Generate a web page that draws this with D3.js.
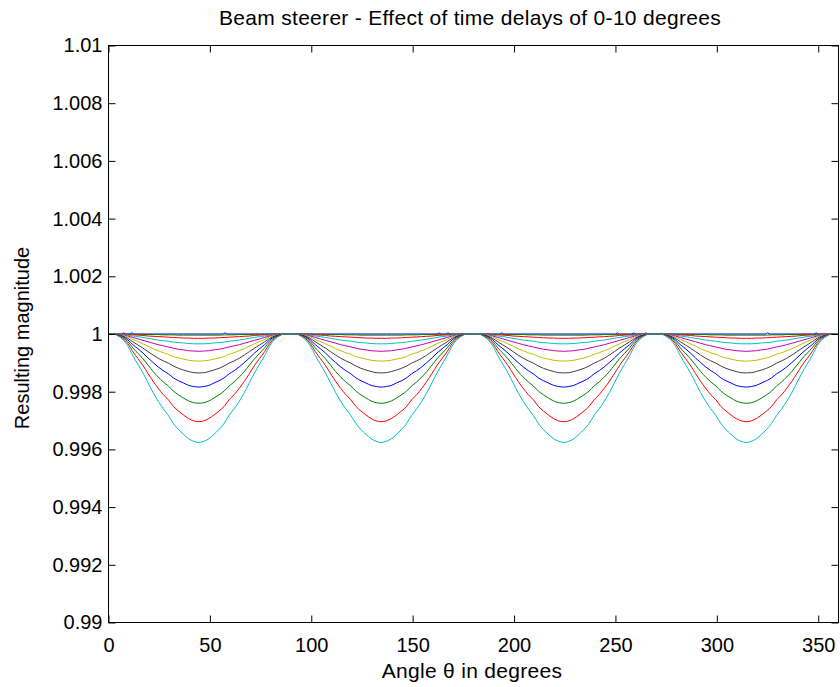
<!DOCTYPE html>
<html>
<head>
<meta charset="utf-8">
<script src="https://cdn.jsdelivr.net/npm/d3@7"></script>
<style>
  html, body { margin: 0; padding: 0; background: #fff; }
  svg { display: block; }
  text { font-family: "Liberation Sans", Arial, Helvetica, sans-serif; fill: #000; }
</style>
</head>
<body>
<svg id="chart" width="840" height="687"></svg>
<script>
// ---------------- data ----------------
const titleText = "Beam steerer - Effect of time delays of 0-10 degrees";
const xLabelText = "Angle \u03b8 in degrees";
const yLabelText = "Resulting magnitude";

const xTicks = [0, 50, 100, 150, 200, 250, 300, 350];
const yTicks = [0.99, 0.992, 0.994, 0.996, 0.998, 1, 1.002, 1.004, 1.006, 1.008, 1.01];

// time delays (degrees) for each curve
const delays = [0, 1, 2, 3, 4, 5, 6, 7, 8, 9, 10];

// delay 0: flat at 1 with a few tiny numerical blips
const delay0Angles = [0, 6.5, 7.5, 8.5, 10.5, 11.5, 12.5, 56.5, 57.5, 58.5, 162, 163, 164, 166.5, 167.5, 168.5, 193, 194, 195, 250, 251, 252, 258, 259, 260, 264, 265, 266, 324, 325, 326, 348, 349, 350, 360];
const delay0Values = [1, 1, 1.00004, 1, 1, 1.00004, 1, 1, 1.00004, 1, 1, 1.00004, 1, 1, 1.00004, 1, 1, 1.00004, 1, 1, 1.00004, 1, 1, 1.00004, 1, 1, 1.00004, 1, 1, 1.00004, 1, 1, 1.00004, 1, 1];

// the other curves: four identical dips; centres of the dips (degrees)
const dipCenters = [44.5, 134.5, 224.5, 314.5];
// distance from dip centre (outer edge -> centre), degrees
const halfOffsets = [42, 40, 37.5, 35, 32.5, 30, 27.5, 25, 22.5, 20, 17.5, 15, 12.5, 10, 7.5, 5, 2.5, 0];

// magnitude at halfOffsets, one array per delay
const delay1  = [1, 1, 1, 1, 0.99999, 0.99999, 0.99999, 0.99998, 0.99998, 0.99998, 0.99997, 0.99997, 0.99997, 0.99996, 0.99996, 0.99996, 0.99996, 0.99996];
const delay2  = [1, 1, 0.99999, 0.99998, 0.99997, 0.99996, 0.99995, 0.99993, 0.99992, 0.99991, 0.99990, 0.99989, 0.99988, 0.99987, 0.99986, 0.99986, 0.99985, 0.99985];
const delay3  = [1, 0.999995, 0.99998, 0.99996, 0.99993, 0.99991, 0.99988, 0.99985, 0.99982, 0.99979, 0.99977, 0.99975, 0.99972, 0.99970, 0.99969, 0.99967, 0.99966, 0.99966];
const delay4  = [1, 0.99999, 0.99997, 0.99993, 0.99988, 0.99983, 0.99978, 0.99973, 0.99968, 0.99963, 0.99959, 0.99955, 0.99951, 0.99947, 0.99945, 0.99942, 0.99941, 0.99940];
const delay5  = [1, 0.99999, 0.99995, 0.99990, 0.99981, 0.99974, 0.99966, 0.99958, 0.99949, 0.99942, 0.99935, 0.99930, 0.99922, 0.99917, 0.99913, 0.99909, 0.99907, 0.99906];
const delay6  = [1, 0.99998, 0.99993, 0.99985, 0.99973, 0.99962, 0.99951, 0.99939, 0.99927, 0.99916, 0.99907, 0.99899, 0.99889, 0.99881, 0.99875, 0.99870, 0.99866, 0.99865];
const delay7  = [1, 0.99997, 0.99991, 0.99980, 0.99963, 0.99949, 0.99934, 0.99917, 0.99901, 0.99886, 0.99873, 0.99862, 0.99848, 0.99838, 0.99830, 0.99822, 0.99818, 0.99816];
const delay8  = [1, 0.99996, 0.99988, 0.99974, 0.99952, 0.99933, 0.99914, 0.99892, 0.99870, 0.99851, 0.99834, 0.99820, 0.99802, 0.99789, 0.99778, 0.99768, 0.99762, 0.99760];
const delay9  = [1, 0.99995, 0.99985, 0.99967, 0.99939, 0.99915, 0.99891, 0.99863, 0.99836, 0.99812, 0.99790, 0.99772, 0.99749, 0.99733, 0.99719, 0.99707, 0.99699, 0.99696];
const delay10 = [1, 0.99994, 0.99981, 0.99959, 0.99925, 0.99895, 0.99865, 0.99831, 0.99797, 0.99767, 0.99741, 0.99718, 0.99690, 0.99669, 0.99652, 0.99637, 0.99628, 0.99624];

const profiles = [null, delay1, delay2, delay3, delay4, delay5, delay6, delay7, delay8, delay9, delay10];

// MATLAB default colour order, cycled
const colorOrder = ["#0000ff", "#008000", "#ff0000", "#00bfbf", "#bf00bf", "#bfbf00", "#404040"];

// ---------------- layout ----------------
const svg = d3.select("#chart");
const pLeft = 108.5, pRight = 838.5, pTop = 45.5, pBottom = 622.5;

const x = d3.scaleLinear().domain([0, 360]).range([pLeft, pRight]);
const y = d3.scaleLinear().domain([0.99, 1.01]).range([pBottom, pTop]);

// build full series from the dip profiles
function buildSeries(vals) {
  const pts = [[0, 1]];
  dipCenters.forEach(c => {
    for (let i = 0; i < halfOffsets.length; i++) pts.push([c - halfOffsets[i], vals[i]]);
    for (let i = halfOffsets.length - 2; i >= 0; i--) pts.push([c + halfOffsets[i], vals[i]]);
  });
  pts.push([360, 1]);
  return pts;
}

svg.append("defs").append("clipPath").attr("id", "clip")
  .append("rect").attr("x", pLeft).attr("y", pTop - 3).attr("width", pRight - pLeft).attr("height", pBottom - pTop + 3);

const line = d3.line().x(d => x(d[0])).y(d => y(d[1])).curve(d3.curveMonotoneX);
const lineLin = d3.line().x(d => x(d[0])).y(d => y(d[1]));

const g = svg.append("g").attr("clip-path", "url(#clip)");
delays.forEach((dl, i) => {
  const data = i === 0 ? delay0Angles.map((a, k) => [a, delay0Values[k]]) : buildSeries(profiles[i]);
  g.append("path")
    .datum(data)
    .attr("fill", "none")
    .attr("stroke", colorOrder[i % colorOrder.length])
    .attr("stroke-width", 1)
    .attr("d", i === 0 ? lineLin : line);
});

// axes (ticks inward, box on)
const tickLen = 7;
const fs = "20px";
const fsLab = "21px";

const xAxis = svg.append("g").attr("transform", `translate(0,${pBottom})`)
  .call(d3.axisBottom(x).tickValues(xTicks).tickSizeInner(-tickLen).tickSizeOuter(0).tickPadding(15).tickFormat(d3.format("d")));
const xAxisTop = svg.append("g").attr("transform", `translate(0,${pTop})`)
  .call(d3.axisTop(x).tickValues(xTicks).tickSizeInner(-tickLen).tickSizeOuter(0).tickFormat(""));
const yAxis = svg.append("g").attr("transform", `translate(${pLeft},0)`)
  .call(d3.axisLeft(y).tickValues(yTicks).tickSizeInner(-tickLen).tickSizeOuter(0).tickPadding(6).tickFormat(d => String(+d.toFixed(3))));
const yAxisRight = svg.append("g").attr("transform", `translate(${pRight},0)`)
  .call(d3.axisRight(y).tickValues(yTicks).tickSizeInner(-tickLen).tickSizeOuter(0).tickFormat(""));

[xAxis, xAxisTop, yAxis, yAxisRight].forEach(a => {
  a.select(".domain").remove();
  a.selectAll(".tick line").attr("stroke", "#000");
  a.selectAll("text").style("font-size", fs).attr("font-family", null);
});

svg.append("rect")
  .attr("x", pLeft).attr("y", pTop).attr("width", pRight - pLeft).attr("height", pBottom - pTop)
  .attr("fill", "none").attr("stroke", "#000").attr("stroke-width", 1);

// labels
svg.append("text").attr("x", 470).attr("y", 25)
  .attr("text-anchor", "middle").style("font-size", fsLab).style("letter-spacing", "0.3px").text(titleText);
svg.append("text").attr("x", 472).attr("y", 678)
  .attr("text-anchor", "middle").style("font-size", fsLab).style("letter-spacing", "0.3px").text(xLabelText);
svg.append("text").attr("transform", `translate(29,338) rotate(-90)`)
  .attr("text-anchor", "middle").style("font-size", fs).text(yLabelText);
</script>
</body>
</html>
